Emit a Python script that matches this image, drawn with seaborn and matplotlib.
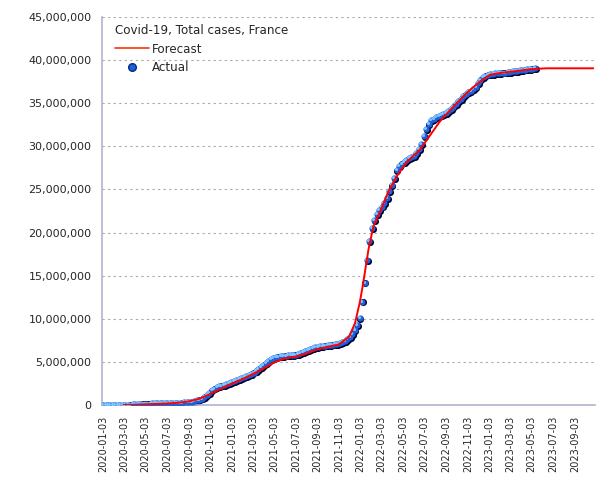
import matplotlib
matplotlib.use("Agg")
import matplotlib.pyplot as plt
import matplotlib.dates as mdates
import matplotlib.transforms as mtransforms
from matplotlib.lines import Line2D
from matplotlib.ticker import FuncFormatter, MultipleLocator
import numpy as np
import pandas as pd
import seaborn as sns

# weekly actual totals (millions), starting 2020-01-03
actual_start = "2020-01-03"
actual_millions = [
    0, 0, 0, 0, 0, 0, 0, 0, 0.005, 0.01,
    0.02, 0.05, 0.08, 0.11, 0.13, 0.145, 0.155, 0.16, 0.165, 0.17,
    0.175, 0.18, 0.185, 0.19, 0.195, 0.2, 0.205, 0.21, 0.22, 0.23,
    0.245, 0.26, 0.27, 0.29, 0.31, 0.34, 0.38, 0.44, 0.52, 0.62,
    0.74, 0.89, 1.1, 1.42, 1.7, 1.9, 2.06, 2.17, 2.25, 2.35,
    2.45, 2.55, 2.64, 2.73, 2.85, 2.97, 3.1, 3.2, 3.32, 3.45,
    3.6, 3.76, 3.93, 4.12, 4.35, 4.62, 4.88, 5.1, 5.3, 5.45,
    5.55, 5.62, 5.66, 5.7, 5.72, 5.74, 5.76, 5.8, 5.85, 5.93,
    6.03, 6.12, 6.25, 6.38, 6.5, 6.6, 6.68, 6.74, 6.8, 6.84,
    6.88, 6.92, 6.96, 7.0, 7.03, 7.08, 7.15, 7.3, 7.45, 7.65,
    7.9, 8.25, 8.7, 9.3, 10.1, 12.0, 14.2, 16.8, 19.0, 20.5,
    21.4, 22.1, 22.6, 23.0, 23.4, 24.0, 24.8, 25.5, 26.3, 27.2,
    27.7, 28.0, 28.2, 28.4, 28.6, 28.75, 28.9, 29.2, 29.7, 30.3,
    31.2, 32.0, 32.6, 33.0, 33.2, 33.35, 33.5, 33.6, 33.75, 33.85,
    34.05, 34.3, 34.6, 34.9, 35.2, 35.5, 35.8, 36.05, 36.25, 36.4,
    36.6, 36.9, 37.35, 37.75, 38.0, 38.2, 38.32, 38.38, 38.42, 38.46,
    38.5, 38.52, 38.54, 38.56, 38.6, 38.64, 38.68, 38.72, 38.76, 38.8,
    38.85, 38.9, 38.94, 38.98, 39.01, 39.04,
]

forecast_dates = [
    "2020-03-01", "2020-04-01", "2020-05-01", "2020-06-01", "2020-07-01",
    "2020-08-01", "2020-09-01", "2020-10-01", "2020-11-01", "2020-12-01",
    "2021-01-01", "2021-02-01", "2021-03-01", "2021-04-01", "2021-05-01",
    "2021-06-01", "2021-07-01", "2021-08-01", "2021-09-01", "2021-10-01",
    "2021-11-01", "2021-12-01", "2021-12-18", "2022-01-01", "2022-01-10",
    "2022-01-25", "2022-02-08", "2022-02-27", "2022-03-22", "2022-04-15",
    "2022-05-14", "2022-06-20", "2022-07-09", "2022-08-16", "2022-09-23",
    "2022-10-31", "2022-12-07", "2023-01-05", "2023-02-02", "2023-03-15",
    "2023-05-01", "2023-06-15", "2023-08-01", "2023-10-25",
]
forecast_millions = [
    0.0, 0.03, 0.08, 0.12, 0.17,
    0.25, 0.4, 0.7, 1.25, 1.85,
    2.45, 3.0, 3.55, 4.2, 4.9,
    5.4, 5.6, 5.95, 6.45, 6.75,
    7.0, 7.9, 9.5, 12.0, 14.1,
    18.0, 20.7, 22.4, 24.7, 26.5,
    28.2, 29.6, 30.7, 32.9, 34.6,
    36.2, 37.5, 38.3, 38.5, 38.7,
    38.95, 39.05, 39.05, 39.05,
]

# x ticks every two months on the 3rd
tick_dates = pd.date_range("2020-01-01", "2023-09-01", freq="2MS") + pd.Timedelta(days=2)

actual = pd.DataFrame({
    "date": pd.date_range(actual_start, periods=len(actual_millions), freq="7D"),
    "cases": np.array(actual_millions) * 1e6,
})
forecast = pd.DataFrame({
    "date": pd.to_datetime(forecast_dates),
    "cases": np.array(forecast_millions) * 1e6,
})

sns.set_style("white")
plt.rcParams["font.family"] = ["DejaVu Sans"]

fig = plt.figure(figsize=(6.05, 4.8), dpi=100)
ax = fig.add_axes([0.1686, 0.1563, 0.8149, 0.8083])

# ball markers: dark shadow, blue body, light highlight
shadow = mtransforms.offset_copy(ax.transData, fig=fig, x=0.8, y=-0.8, units="dots")
shine = mtransforms.offset_copy(ax.transData, fig=fig, x=-1.0, y=1.0, units="dots")
sns.scatterplot(data=actual, x="date", y="cases", ax=ax, s=26, color="#00002e",
                linewidth=0, transform=shadow, zorder=2)
sns.scatterplot(data=actual, x="date", y="cases", ax=ax, s=20, color="#1f5fd8",
                linewidth=0, zorder=3)
sns.scatterplot(data=actual, x="date", y="cases", ax=ax, s=5, color="#7ec4ff",
                linewidth=0, transform=shine, zorder=4)
sns.lineplot(data=forecast, x="date", y="cases", ax=ax, color="#ff0000",
             linewidth=1.4, zorder=5)

ax.set_xlim(pd.Timestamp("2019-12-31"), pd.Timestamp("2023-10-30"))
ax.set_ylim(0, 45e6)
ax.yaxis.set_major_locator(MultipleLocator(5e6))
ax.yaxis.set_major_formatter(FuncFormatter(lambda v, p: f"{int(v):,}"))
ax.set_xticks(tick_dates)
ax.xaxis.set_major_formatter(mdates.DateFormatter("%Y-%m-%d"))
ax.tick_params(axis="x", rotation=90, labelsize=7, length=4, color="#000060", direction="out")
ax.tick_params(axis="y", labelsize=8, length=4, color="#000060", direction="out")
ax.set_xlabel("")
ax.set_ylabel("")

ax.yaxis.grid(True, linestyle=(0, (2, 3)), color="#a8a8a8", linewidth=0.8)
ax.xaxis.grid(False)
for side in ["top", "right"]:
    ax.spines[side].set_visible(False)
for side in ["left", "bottom"]:
    ax.spines[side].set_color("#b0b4cc")
    ax.spines[side].set_linewidth(1.2)

handles = [
    Line2D([], [], color="#ff3300", linewidth=1.2, label="Forecast"),
    Line2D([], [], marker="o", linestyle="", markersize=5.5, color="#1f5fd8",
           markeredgecolor="#0a2a80", label="Actual"),
]
leg = ax.legend(handles=handles, loc="upper left", bbox_to_anchor=(0.012, 1.0),
                frameon=False, title="Covid-19, Total cases, France", fontsize=8.6,
                title_fontsize=8.6, alignment="left", handlelength=2.8,
                handletextpad=0.3, labelspacing=0.45, borderaxespad=0.2)

fig.savefig("out.png", dpi=100)
